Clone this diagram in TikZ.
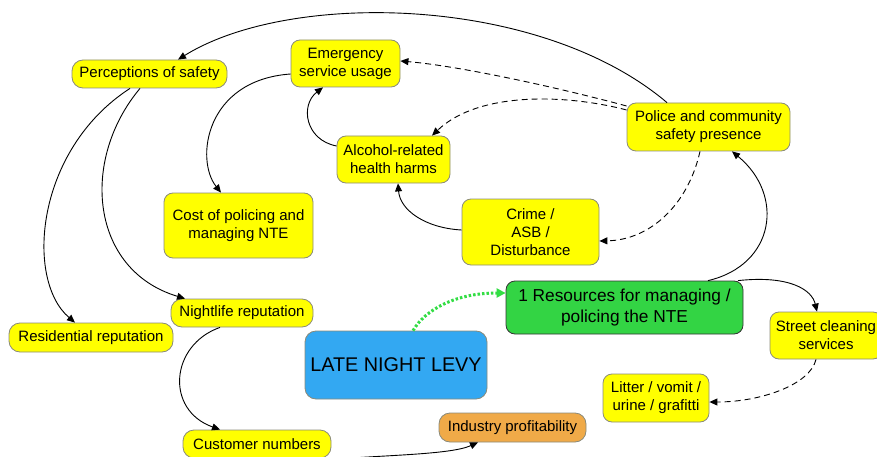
\documentclass[tikz,border=0pt]{standalone}
\usepackage{fontspec}
\setmainfont{Liberation Sans}
\usetikzlibrary{arrows.meta,calc}
\definecolor{nodeyellow}{HTML}{FFFF00}
\definecolor{boxgray}{HTML}{8A8A7A}
\definecolor{resgreen}{HTML}{33D444}
\definecolor{levyblue}{HTML}{33A8F2}
\definecolor{indorange}{HTML}{F0AA48}
\definecolor{dotgreen}{HTML}{33DD44}
\begin{document}
\begin{tikzpicture}[x=1pt,y=-1pt,
  box/.style={draw=boxgray, line width=0.8pt, fill=nodeyellow, rounded corners=9pt,
    align=center, inner sep=0pt, font=\fontsize{15}{18}\selectfont},
  link/.style={line width=0.9pt, -{Triangle[length=8pt,width=7pt]}},
  dlink/.style={link, dash pattern=on 6pt off 4pt}]
\useasboundingbox (0,0) rectangle (877,457);
\clip (0,0) rectangle (877,457);

\node[box, minimum width=155pt, minimum height=28pt, rounded corners=11pt] (persafe) at (149.5,74) {Perceptions of safety};
\node[box, minimum width=109pt, minimum height=47pt] (emerg) at (345.5,63.5) {Emergency\\service usage};
\node[box, minimum width=113pt, minimum height=47pt] (alcohol) at (393.5,159.5) {Alcohol-related\\health harms};
\node[box, minimum width=149pt, minimum height=65pt] (cost) at (238.5,225.5) {Cost of policing and\\managing NTE};
\node[box, minimum width=163pt, minimum height=48pt] (police) at (708.5,127) {Police and community\\safety presence};
\node[box, minimum width=137pt, minimum height=66pt] (crime) at (530.5,232) {Crime /\\ASB /\\Disturbance};
\node[box, fill=resgreen, draw=black!80, minimum width=237pt, minimum height=53pt,
  font=\fontsize{17.3}{21.7}\selectfont] (resources) at (624.5,307.5) {1 Resources for managing /\\policing the NTE};
\node[box, minimum width=112pt, minimum height=47pt] (street) at (826,335.5) {Street cleaning\\services};
\node[box, minimum width=106pt, minimum height=48pt] (litter) at (656,398) {Litter / vomit /\\urine / grafitti};
\node[box, fill=indorange, minimum width=147pt, minimum height=29pt, rounded corners=11pt] (industry) at (512.5,427.5) {Industry profitability};
\node[box, fill=levyblue, minimum width=182pt, minimum height=68pt, rounded corners=11pt,
  font=\fontsize{19.8}{23}\selectfont] (levy) at (396,365) {LATE NIGHT LEVY};
\node[box, minimum width=142pt, minimum height=28pt, rounded corners=11pt] (nightlife) at (242,313) {Nightlife reputation};
\node[box, minimum width=164pt, minimum height=29pt, rounded corners=11pt] (residential) at (91,337.5) {Residential reputation};
\node[box, minimum width=148pt, minimum height=28pt, rounded corners=11pt] (customer) at (257,444) {Customer numbers};

% police -> perceptions
\draw[link] ($(police.north)+(-41.5,0)$) .. controls (540,-5) and (290,-10) .. ($(persafe.north)+(28.5,0)$);
% police -> emergency (dashed)
\draw[dlink] ($(police.west)+(0,-21)$) .. controls (560,88) and (460,66) .. ($(emerg.east)+(0,-2.5)$);
% police -> alcohol (dashed)
\draw[dlink] ($(police.west)+(0,-17)$) .. controls (570,95) and (480,90) .. ($(alcohol.north)+(38.5,0)$);
% police -> crime (dashed)
\draw[dlink] ($(police.south)+(-8.5,0)$) .. controls (688,205) and (650,240) .. ($(crime.east)+(0,9)$);
% resources -> police
\draw[link] ($(resources.north)+(83.5,0)$) .. controls (775,265) and (785,195) .. ($(police.south)+(23.5,0)$);
% resources -> street cleaning
\draw[link] ($(resources.north)+(113.5,0)$) .. controls (790,275) and (812,290) .. ($(street.north)+(-9,0)$);
% street -> litter (dashed)
\draw[dlink] ($(street.south)+(-10,0)$) .. controls (810,385) and (760,402) .. ($(litter.east)+(0,4)$);
% crime -> alcohol
\draw[link] ($(crime.west)+(0,-2)$) .. controls (425,228) and (400,210) .. ($(alcohol.south)+(4.5,0)$);
% alcohol -> emergency
\draw[link] ($(alcohol.west)+(0,-13.5)$) .. controls (305,140) and (300,105) .. ($(emerg.south)+(-22.5,0)$);
% emergency -> cost
\draw[link] ($(emerg.west)+(0,10.5)$) .. controls (205,80) and (195,160) .. ($(cost.north)+(-17.5,0)$);
% perceptions -> residential
\draw[link] ($(persafe.south)+(-19.5,0)$) .. controls (35,150) and (25,280) .. ($(residential.north)+(-16,0)$);
% perceptions -> nightlife
\draw[link] ($(persafe.south)+(-9.5,0)$) .. controls (80,160) and (90,270) .. ($(nightlife.north)+(-57,0)$);
% nightlife -> customer
\draw[link] ($(nightlife.south)+(-22,0)$) .. controls (170,345) and (165,410) .. ($(customer.north)+(-37,0)$);
% customer -> industry
\draw[link] ($(customer.east)+(-5,16)$) .. controls (380,455) and (450,455) .. ($(industry.south)+(-34.5,0)$);
% levy -> resources (green dotted)
\draw[dotgreen, line width=3pt, dash pattern=on 2.5pt off 2pt,
  -{Triangle[length=9pt,width=9pt]}] ($(levy.north)+(17,0)$) .. controls (425,310) and (455,293) .. ($(resources.west)+(0,-14.5)$);
\end{tikzpicture}
\end{document}
